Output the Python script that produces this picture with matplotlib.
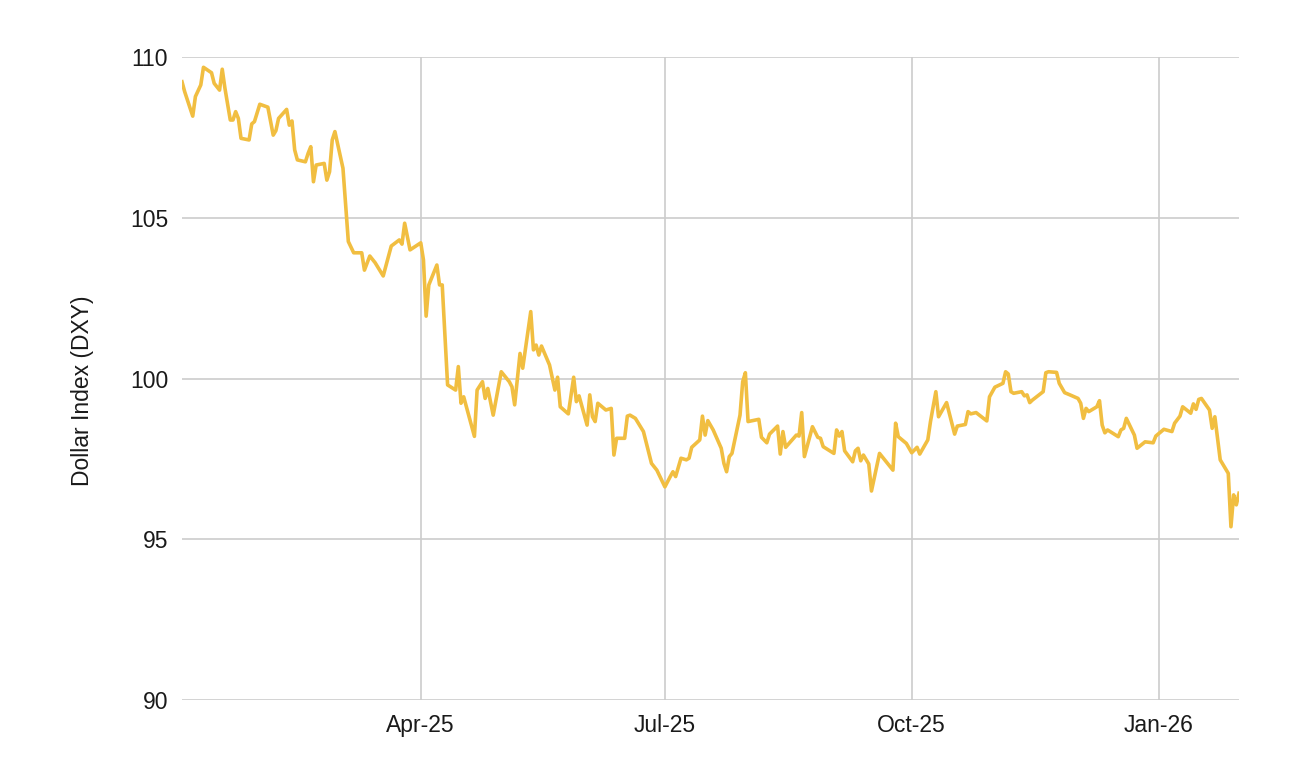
import matplotlib
matplotlib.use("Agg")
import matplotlib.pyplot as plt
import matplotlib.dates as mdates
import numpy as np
import pandas as pd

plt.rcParams['font.family'] = ['Liberation Sans', 'DejaVu Sans']

# DXY readings, days counted from 2 Jan 2025
start = pd.Timestamp('2025-01-02')
days = [0, 1, 4, 5, 7, 8, 11, 12, 14, 15, 16, 18, 19, 20, 21, 22, 25, 26, 27, 29,
        32, 34, 35, 36, 39, 40, 41, 42, 43, 46, 47, 48, 49, 50, 53, 54, 55, 56, 57, 60,
        62, 64, 67, 68, 70, 72, 75, 78, 81, 82, 83, 85, 89, 90, 91, 92, 95, 96, 97, 99,
        102, 103, 104, 105, 109, 110, 112, 113, 114, 116, 119, 122, 123, 124, 126, 127, 130, 131, 132, 133,
        134, 137, 139, 140, 141, 144, 146, 147, 148, 151, 152, 153, 154, 155, 158, 160, 161, 162, 165, 166,
        167, 169, 172, 175, 177, 180, 182, 183, 184, 186, 188, 189, 190, 193, 194, 195, 196, 198, 201, 202,
        203, 204, 205, 208, 209, 210, 211, 215, 216, 218, 219, 222, 223, 224, 225, 229, 230, 231, 232, 235,
        237, 238, 239, 243, 244, 245, 246, 247, 250, 251, 252, 253, 254, 256, 257, 260, 265, 266, 267, 270,
        272, 274, 275, 278, 279, 281, 282, 285, 288, 289, 292, 293, 294, 296, 300, 301, 303, 306, 307, 308,
        309, 310, 313, 314, 315, 316, 317, 321, 322, 323, 326, 327, 329, 331, 334, 335, 336, 337, 338, 341,
        342, 343, 344, 345, 349, 350, 351, 352, 355, 356, 359, 362, 363, 366, 369, 370, 372, 373, 376, 377,
        378, 379, 380, 383, 384, 385, 387, 390, 391, 392, 393, 394]
dxy = [109.23, 108.92, 108.16, 108.77, 109.13, 109.68, 109.51, 109.18, 108.97, 109.62,
       109.03, 108.04, 108.04, 108.30, 108.09, 107.47, 107.42, 107.92, 107.99, 108.53,
       108.44, 107.57, 107.71, 108.09, 108.37, 107.88, 108.01, 107.11, 106.80, 106.74,
       107.00, 107.21, 106.12, 106.64, 106.69, 106.17, 106.43, 107.42, 107.68, 106.54,
       104.26, 103.91, 103.91, 103.37, 103.81, 103.60, 103.19, 104.12, 104.31, 104.18,
       104.83, 104.00, 104.22, 103.69, 101.94, 102.91, 103.53, 102.91, 102.91, 99.80,
       99.64, 100.37, 99.23, 99.43, 98.20, 99.64, 99.90, 99.38, 99.69, 98.86,
       100.21, 99.90, 99.74, 99.18, 100.78, 100.32, 102.08, 100.89, 101.04, 100.73,
       101.01, 100.42, 99.64, 100.04, 99.12, 98.90, 100.04, 99.28, 99.46, 98.55,
       99.49, 98.81, 98.66, 99.23, 99.02, 99.07, 97.62, 98.14, 98.14, 98.83,
       98.86, 98.76, 98.35, 97.36, 97.15, 96.63, 96.95, 97.10, 96.95, 97.52,
       97.47, 97.52, 97.86, 98.09, 98.83, 98.24, 98.69, 98.40, 97.83, 97.36,
       97.10, 97.57, 97.67, 98.86, 99.90, 100.18, 98.66, 98.73, 98.17, 98.00,
       98.27, 98.52, 97.65, 98.35, 97.86, 98.24, 98.21, 98.94, 97.57, 98.50,
       98.17, 98.14, 97.88, 97.67, 98.40, 98.21, 98.35, 97.75, 97.41, 97.75,
       97.83, 97.44, 97.62, 97.34, 96.50, 97.67, 97.15, 98.61, 98.19, 97.98,
       97.69, 97.86, 97.65, 98.09, 98.66, 99.59, 98.81, 99.25, 98.27, 98.52,
       98.57, 98.97, 98.90, 98.94, 98.68, 99.43, 99.73, 99.85, 100.21, 100.14,
       99.59, 99.54, 99.59, 99.46, 99.49, 99.25, 99.33, 99.59, 100.18, 100.21,
       100.19, 99.85, 99.56, 99.49, 99.38, 99.23, 98.76, 99.07, 98.97, 99.12,
       99.31, 98.55, 98.31, 98.40, 98.19, 98.40, 98.45, 98.76, 98.24, 97.83,
       98.03, 98.00, 98.21, 98.42, 98.35, 98.61, 98.83, 99.12, 98.92, 99.21,
       99.04, 99.35, 99.38, 99.02, 98.45, 98.81, 97.47, 97.05, 95.39, 96.38,
       96.07, 96.43]

dates = start + pd.to_timedelta(days, unit='D')
month_ticks = pd.to_datetime(['2025-04-01', '2025-07-01', '2025-10-01', '2026-01-01'])
y_ticks = [90, 95, 100, 105, 110]

fig = plt.figure(figsize=(12.92, 7.64), dpi=100)
ax = fig.add_axes([182/1292, 64/764, 1057/1292, 643/764])

ax.plot(dates, dxy, color='#F1BE41', linewidth=2.6, solid_joinstyle='round', zorder=3)

ax.set_xlim(start, start + pd.Timedelta(days=394))
ax.set_ylim(90, 110)
ax.set_yticks(y_ticks)
ax.set_xticks(month_ticks)
ax.xaxis.set_major_formatter(mdates.DateFormatter('%b-%y'))
ax.grid(True, color='#CCCCCC', linewidth=1.2)
ax.set_axisbelow(True)
for s in ax.spines.values():
    s.set_visible(False)
ax.tick_params(axis='both', length=0, labelsize=16.5, colors='#1a1a1a')
ax.tick_params(axis='y', pad=10)
ax.tick_params(axis='x', pad=10)

fig.text(82/1292, 1 - 391/764, 'Dollar Index (DXY)', rotation=90,
         ha='center', va='center', fontsize=16.5, color='#1a1a1a')

fig.savefig('out.png', dpi=100)
